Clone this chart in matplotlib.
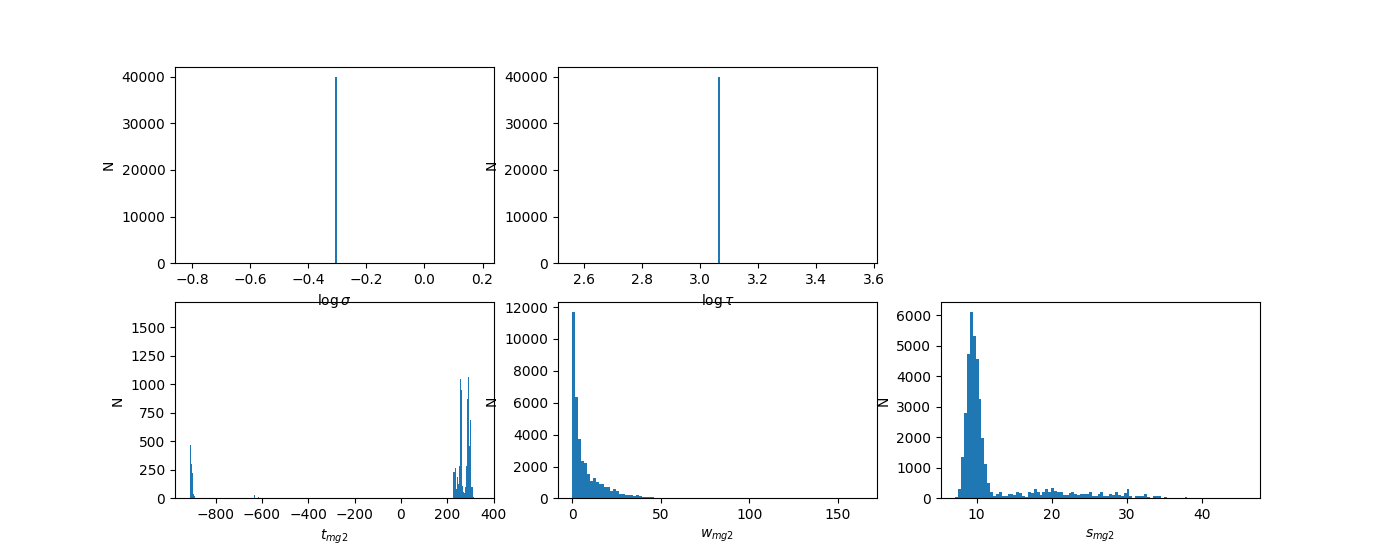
import numpy as np
import matplotlib.pyplot as plt

# fitted parameters, 40000 samples each
n_samples = 40000
log_sigma = -0.31
log_tau = 3.06

# t_mg2: only the non-empty bins (bin centers, counts), 280 bins over t_range
t_range = (-913.0, 340.0)
t_bins = 280
t_centers = [-910.8, -906.3, -901.8, -897.3, -892.9,
             -633.3, -615.4,
             225.9, 230.4, 234.8, 239.3, 243.8, 248.2, 252.7, 257.2, 261.7, 266.1,
             270.6, 275.1, 279.5, 284.0, 288.5, 292.9, 297.4, 301.9, 306.3, 310.8, 315.3]
t_counts = [465, 305, 225, 35, 25,
            26, 10,
            229, 229, 264, 82, 191, 126, 288, 1050, 954, 111,
            53, 47, 97, 288, 869, 1065, 464, 684, 103, 97, 15]

# w_mg2: 100 bins
w_range = (0.0, 164.0)
w_counts = [11710, 6360, 3710, 2320, 2190, 1560, 1100, 1310, 1055, 930,
            930, 720, 720, 467, 613, 467, 297, 253, 215, 190,
            190, 160, 190, 130, 100, 70, 70, 70, 30, 50,
            50, 40, 0, 0, 0, 0, 0, 0, 0, 0,
            0, 0, 0, 0, 0, 0, 0, 0, 0, 0,
            0, 0, 0, 0, 0, 0, 0, 0, 0, 0,
            0, 0, 0, 0, 0, 0, 0, 0, 0, 0,
            0, 0, 0, 0, 0, 0, 0, 0, 0, 0,
            0, 0, 0, 0, 0, 0, 0, 0, 0, 0,
            0, 0, 0, 0, 0, 0, 0, 0, 0, 40]

# s_mg2: 100 bins
s_range = (7.17, 45.84)
s_counts = [44, 317, 1366, 2809, 4743, 6120, 5333, 4579, 3268, 1989,
            1115, 514, 197, 87, 131, 197, 87, 87, 131, 131,
            98, 219, 186, 77, 55, 197, 164, 317, 219, 98,
            219, 317, 219, 350, 251, 197, 219, 109, 98, 164,
            197, 131, 98, 153, 131, 131, 219, 66, 66, 131,
            219, 87, 66, 131, 98, 219, 98, 66, 164, 295,
            66, 22, 87, 66, 66, 131, 44, 22, 87, 66,
            66, 22, 55, 22, 22, 11, 11, 0, 0, 55,
            0, 0, 0, 0, 0, 0, 0, 0, 0, 0,
            0, 0, 0, 0, 0, 0, 0, 0, 0, 0]


def centers(rng, nb):
    edges = np.linspace(rng[0], rng[1], nb + 1)
    return 0.5 * (edges[:-1] + edges[1:])


fig = plt.figure(figsize=(14, 5.6))

# top row sits above the bottom row so its x labels stay visible
ax = fig.add_subplot(2, 3, 1, zorder=1)
ax.hist([log_sigma], bins=100, weights=[n_samples])
ax.set_xlabel(r'$\log\sigma$')
ax.set_ylabel('N')

ax = fig.add_subplot(2, 3, 2, zorder=1)
ax.hist([log_tau], bins=100, weights=[n_samples])
ax.set_xlabel(r'$\log\tau$')
ax.set_ylabel('N')

ax = fig.add_subplot(2, 3, 4)
ax.hist(t_centers, bins=t_bins, range=t_range, weights=t_counts)
ax.set_ylim(0, 1720)
ax.set_xlabel(r'$t_{mg2}$')
ax.set_ylabel('N')

ax = fig.add_subplot(2, 3, 5)
ax.hist(centers(w_range, 100), bins=100, range=w_range, weights=w_counts)
ax.set_xlabel(r'$w_{mg2}$')
ax.set_ylabel('N')

ax = fig.add_subplot(2, 3, 6)
ax.hist(centers(s_range, 100), bins=100, range=s_range, weights=s_counts)
ax.set_xlabel(r'$s_{mg2}$')
ax.set_ylabel('N')

plt.savefig('out.png')
